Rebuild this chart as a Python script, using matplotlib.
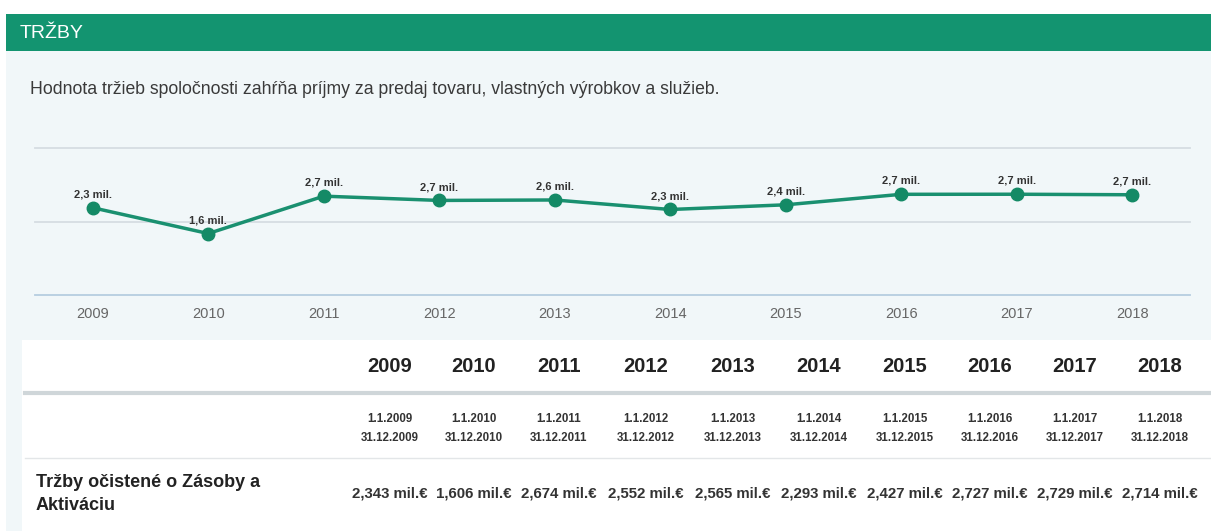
import matplotlib
matplotlib.use("Agg")
import matplotlib.pyplot as plt
from matplotlib.patches import Rectangle

plt.rcParams["font.family"] = ["Liberation Sans", "DejaVu Sans"]

years = ["2009", "2010", "2011", "2012", "2013", "2014", "2015", "2016", "2017", "2018"]
values = [2.343, 1.606, 2.674, 2.552, 2.565, 2.293, 2.427, 2.727, 2.729, 2.714]
point_labels = ["2,3 mil.", "1,6 mil.", "2,7 mil.", "2,7 mil.", "2,6 mil.", "2,3 mil.",
                "2,4 mil.", "2,7 mil.", "2,7 mil.", "2,7 mil."]
period_start = ["1.1." + y for y in years]
period_end = ["31.12." + y for y in years]
table_values = ["2,343 mil.€", "1,606 mil.€", "2,674 mil.€", "2,552 mil.€", "2,565 mil.€",
                "2,293 mil.€", "2,427 mil.€", "2,727 mil.€", "2,729 mil.€", "2,714 mil.€"]
title = "TRŽBY"
subtitle = "Hodnota tržieb spoločnosti zahŕňa príjmy za predaj tovaru, vlastných výrobkov a služieb."
row_label = "Tržby očistené o Zásoby a\nAktiváciu"

W, H = 1211, 531
fig = plt.figure(figsize=(W / 100, H / 100), dpi=100)
fig.patch.set_facecolor("white")

def px(x, y):
    return x / W, 1 - y / H

def rect(x0, y0, x1, y1, color, z=-10):
    fig.patches.append(Rectangle(px(x0, y1), (x1 - x0) / W, (y1 - y0) / H,
                                 transform=fig.transFigure, facecolor=color,
                                 edgecolor="none", zorder=z))

# panels
rect(6, 50, W, 340, "#f1f7f9")
rect(6, 340, 22, H, "#f1f7f9")
rect(22, 340, W, H, "#ffffff")
rect(6, 14, W, 51, "#139470")
fig.text(*px(20, 34), title, color="white", fontsize=14, va="center", ha="left")
fig.text(*px(30, 89), subtitle, color="#3a3a3a", fontsize=12.7, va="center", ha="left")

# line chart
ax = fig.add_axes([35 / W, 1 - 295 / H, 1155 / W, 147 / H])
ax.set_zorder(1)
ax.set_facecolor("none")
x = list(range(len(years)))
ax.set_xlim(-0.5, 9.5)
ax.set_ylim(-0.15, 4.05)
for gy, gc in [(-0.15, "#b6cde0"), (1.95, "#d6dde2"), (4.05, "#d6dde2")]:
    ax.axhline(gy, color=gc, lw=1.3, zorder=1, clip_on=False)
ax.plot(x, values, color="#1a9070", lw=2.5, marker="o", markersize=9,
        markerfacecolor="#148a66", markeredgecolor="#148a66", zorder=3)
for xi, v, lab in zip(x, values, point_labels):
    ax.annotate(lab, (xi, v), xytext=(0, 6), textcoords="offset points",
                ha="center", va="bottom", fontsize=8, fontweight="bold", color="#333333")
for s in ax.spines.values():
    s.set_visible(False)
ax.set_yticks([])
ax.set_xticks(x)
ax.set_xticklabels(years, color="#666666", fontsize=10.5)
ax.tick_params(axis="x", length=0, pad=9)

# table
col_x = [390, 474, 559, 646, 733, 819, 905, 990, 1075, 1160]
for cx, yr, s, e, tv in zip(col_x, years, period_start, period_end, table_values):
    fig.text(*px(cx, 367), yr, ha="center", va="center", fontsize=14.5,
             fontweight="bold", color="#222222")
    fig.text(*px(cx, 419), s, ha="center", va="center", fontsize=8.3,
             fontweight="bold", color="#333333")
    fig.text(*px(cx, 438), e, ha="center", va="center", fontsize=8.3,
             fontweight="bold", color="#333333")
    fig.text(*px(cx, 494), tv, ha="center", va="center", fontsize=10.8,
             fontweight="bold", color="#333333")
fig.text(*px(36, 494), row_label, ha="left", va="center", fontsize=13,
         fontweight="bold", color="#222222", linespacing=1.5)

fig.lines.append(plt.Line2D([25 / W, 1], [1 - 393 / H] * 2, transform=fig.transFigure,
                            color="#cfd6d9", lw=3))
fig.lines.append(plt.Line2D([25 / W, 1], [1 - 458 / H] * 2, transform=fig.transFigure,
                            color="#e3e6e8", lw=1))

fig.savefig("out.png", dpi=100)
